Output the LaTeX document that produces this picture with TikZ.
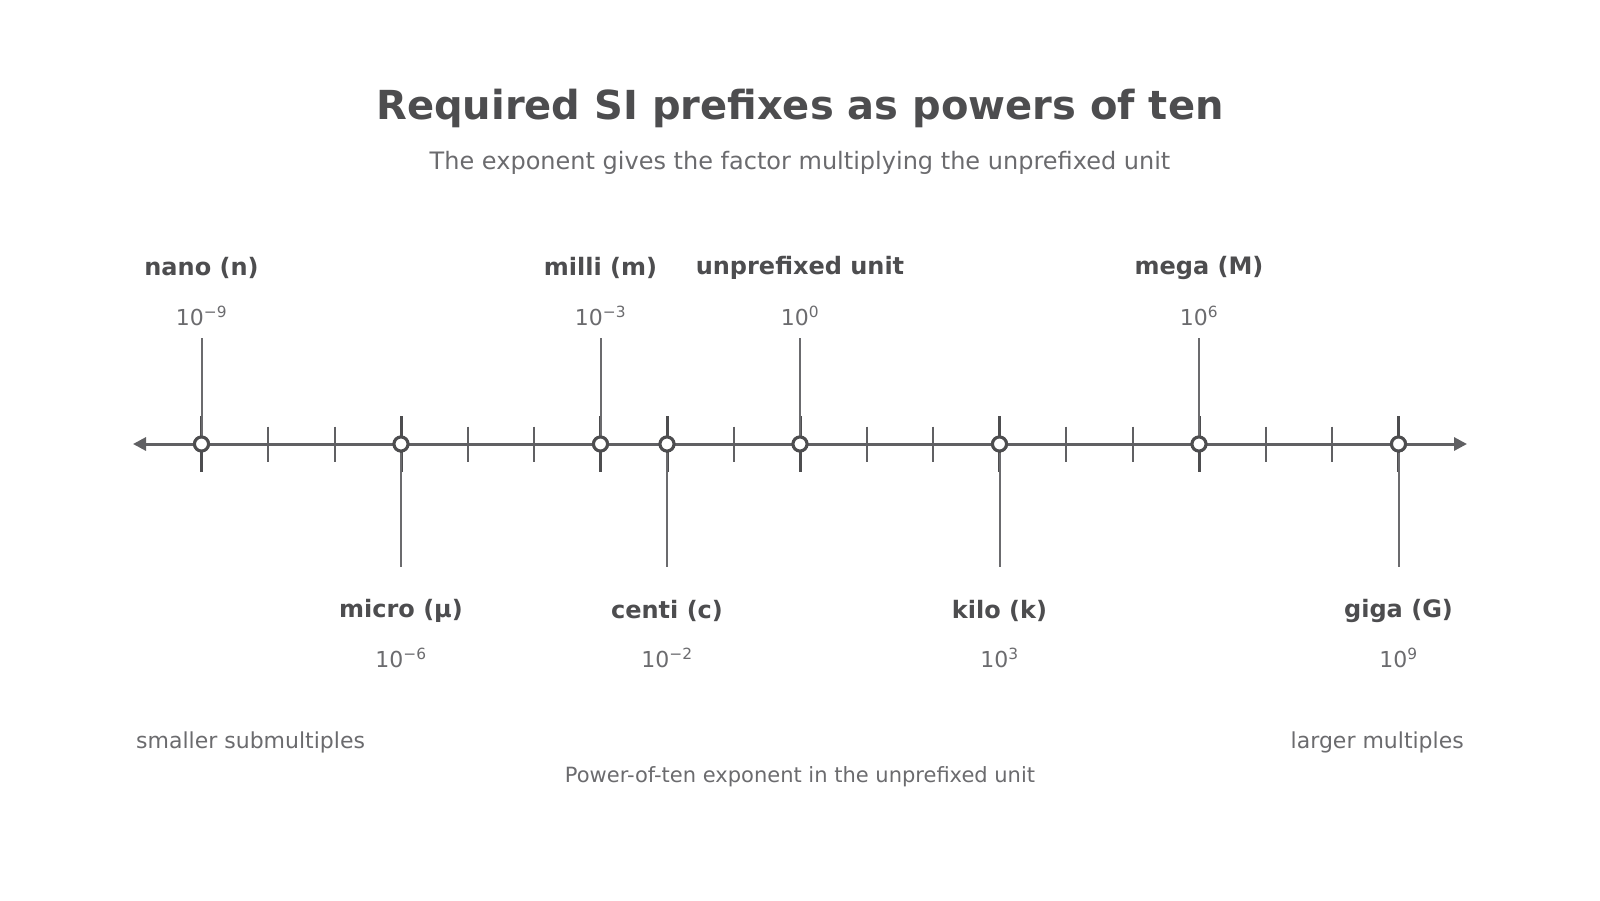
\documentclass[tikz,border=0pt]{standalone}
\usepackage{fontspec}
\setmainfont{DejaVu Sans}
\usetikzlibrary{arrows.meta}
\definecolor{dark}{HTML}{4D4D4F}
\definecolor{mid}{HTML}{6B6B6E}
\definecolor{axisc}{HTML}{606063}
\tikzset{
  titletxt/.style={font=\fontsize{40}{44}\selectfont\bfseries, text=dark, inner sep=0pt},
  subtxt/.style={font=\fontsize{24}{28}\selectfont, text=mid, inner sep=0pt},
  nametxt/.style={font=\fontsize{24}{28}\selectfont\bfseries, text=dark, inner sep=0pt},
  exptxt/.style={font=\fontsize{22}{26}\selectfont, text=mid, inner sep=0pt},
  sidetxt/.style={font=\fontsize{22}{26}\selectfont, text=mid, inner sep=0pt},
  axtxt/.style={font=\fontsize{21}{25}\selectfont, text=mid, inner sep=0pt},
  axisline/.style={draw=axisc, line width=3pt, {Triangle[length=13pt,width=13pt]}-{Triangle[length=13pt,width=13pt]}},
  minortick/.style={draw=axisc, line width=2pt},
  majortick/.style={draw=dark, line width=3pt},
  leader/.style={draw=mid, line width=2pt},
  pt/.style={circle, draw=dark, fill=white, line width=3pt, minimum size=14pt, inner sep=0pt},
}
\begin{document}
\begin{tikzpicture}[x=1pt,y=-1pt]
\useasboundingbox (0,0) rectangle (1600,900);
% title
\node[titletxt] (title) at (800,108) {Required SI prefixes as powers of ten};
\node[subtxt] (subtitle) at (800,163) {The exponent gives the factor multiplying the unprefixed unit};
% axis
\coordinate (axL) at (133,444);
\coordinate (axR) at (1467,444);
\draw[axisline] (axL) -- (axR);
% minor ticks
\foreach \e in {-8,-7,-5,-4,-1,1,2,4,5,7,8}{
  \draw[minortick] ({800+66.5*\e},426.5) -- ({800+66.5*\e},461.5);
}
% major ticks and points
\foreach \e in {-9,-6,-3,-2,0,3,6,9}{
  \draw[majortick] ({800+66.5*\e},416) -- ({800+66.5*\e},472);
}
% labels above
\foreach \e/\nm/\ex/\id in {-9/nano (n)/10\textsuperscript{−9}/n, -3/milli (m)/10\textsuperscript{−3}/m, 0/unprefixed unit/10\textsuperscript{0}/u, 6/mega (M)/10\textsuperscript{6}/M}{
  \coordinate (top\id) at ({800+66.5*\e},338);
  \node[nametxt] (name\id) at ({800+66.5*\e},268) {\nm};
  \node[exptxt] (exp\id) at ({800+66.5*\e},316) {\ex};
  \node[pt] (p\id) at ({800+66.5*\e},444) {};
  \draw[leader] (top\id) -- (p\id.north);
  \node[pt] at (p\id) {};
}
% labels below
\foreach \e/\nm/\ex/\id in {-6/micro (µ)/10\textsuperscript{−6}/mu, -2/centi (c)/10\textsuperscript{−2}/c, 3/kilo (k)/10\textsuperscript{3}/k, 9/giga (G)/10\textsuperscript{9}/G}{
  \coordinate (bot\id) at ({800+66.5*\e},567);
  \node[nametxt] (name\id) at ({800+66.5*\e},611) {\nm};
  \node[exptxt] (exp\id) at ({800+66.5*\e},658) {\ex};
  \node[pt] (p\id) at ({800+66.5*\e},444) {};
  \draw[leader] (p\id.south) -- (bot\id);
  \node[pt] at (p\id) {};
}
% side labels
\node[sidetxt, anchor=west] (smaller) at (136,742) {smaller submultiples};
\node[sidetxt, anchor=east] (larger) at (1464,742) {larger multiples};
\node[axtxt] (axlabel) at (800,777) {Power-of-ten exponent in the unprefixed unit};
\end{tikzpicture}
\end{document}
